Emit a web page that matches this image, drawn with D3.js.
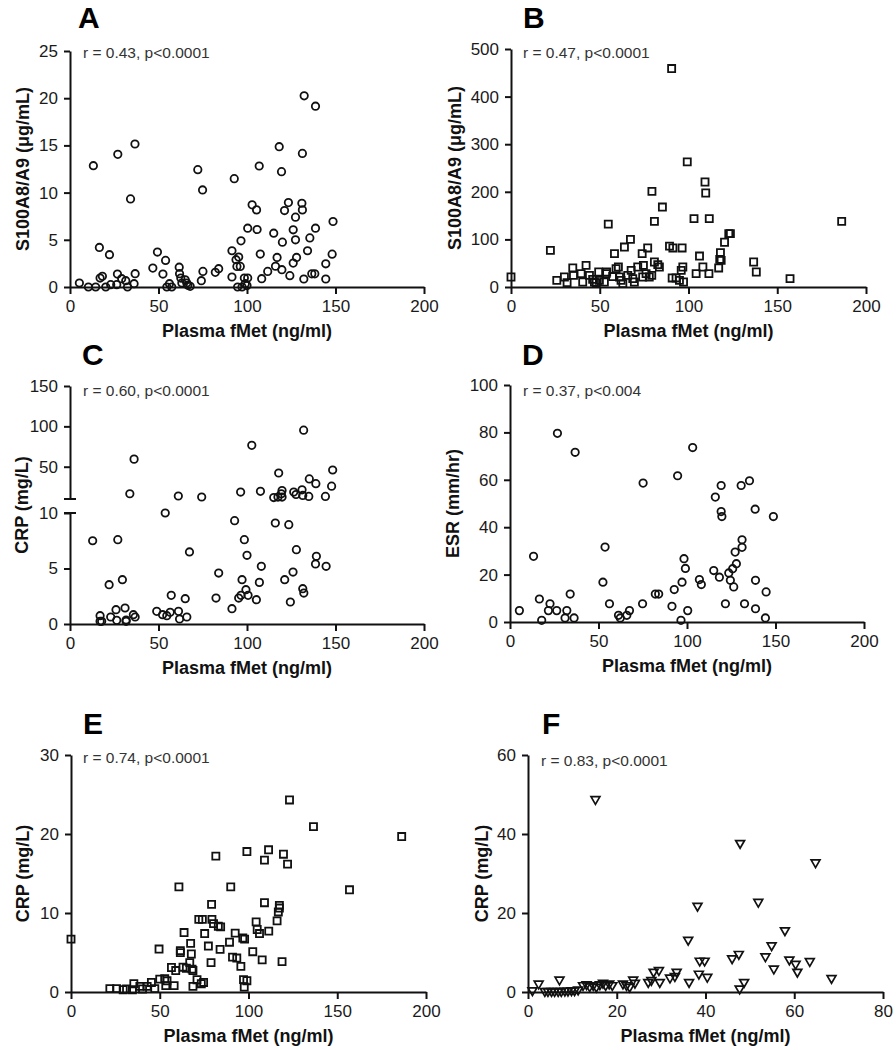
<!DOCTYPE html>
<html><head><meta charset="utf-8">
<script src="https://cdn.jsdelivr.net/npm/d3@7"></script>
<style>
body{margin:0;background:#fff;}
text{font-family:"Liberation Sans",Arial,sans-serif;}
</style></head>
<body><svg id="c" width="896" height="1050"></svg>
<script>
// ---------- DATA ----------
const xTitle = "Plasma fMet (ng/ml)";
const xTicks200 = [0,50,100,150,200];
const xTicks80 = [0,20,40,60,80];

const aTicksY = [0,5,10,15,20,25];
const aPoints = [[5.3,0.42],[10.4,0],[13.2,12.85],[14.5,0],[16.6,4.19],[17,0.95],[18.3,1.13],[20.2,0],[22.3,3.42],[23,0.25],[26.8,1.37],[26.4,0.25],[27,14.05],[29.2,0.88],[31.5,0.67],[32.5,0],[34.2,9.33],[36.7,15.15],[36.8,1.41],[36.2,0.35],[46.8,2.0],[49.4,3.7],[52.5,1.37],[54,2.82],[54.7,0],[56.2,0.35],[57.5,0],[61.7,2.1],[61.9,1.41],[62.6,0.95],[63.2,0.42],[65.1,0.77],[66,0.42],[66.6,0.18],[67.9,0.07],[72.2,12.43],[74.2,0.67],[74.9,10.28],[75.1,1.65],[82.1,1.55],[84,1.94],[91.5,3.84],[91.5,1.06],[92.8,11.48],[93.8,2.89],[95.3,3.17],[94.3,2.18],[96.2,2.18],[96.6,4.89],[94.7,0],[97.2,0],[98.5,0.95],[99,0.35],[100.4,0.95],[100,0.15],[100.4,6.23],[102.9,8.7],[105.4,8.17],[105.7,6.09],[106.9,12.82],[107.5,3.49],[108.3,0.88],[111.7,1.65],[115.1,5.7],[116.1,2.2],[117,3.13],[118.2,14.86],[119.5,12.22],[119.7,1.83],[120,4.75],[121.2,8.1],[123.4,8.94],[124.2,1.2],[126.1,6.06],[126.1,2.53],[127.4,7.4],[127.4,5.0],[128,3.13],[131,8.87],[131.3,14.15],[131.3,8.17],[132.1,0.85],[132.3,20.25],[134.2,3.84],[135.5,5.2],[136.6,1.4],[138.3,1.4],[138.7,19.15],[138.7,6.23],[144.5,2.46],[144.5,0.85],[148.1,3.48],[148.6,6.94]];

const bTicksY = [0,100,200,300,400,500];
const bPoints = [[0,21],[22.2,77],[25.8,14],[30.1,21],[31.6,9],[34.8,40],[35.2,24.5],[39.5,28],[40.4,10.5],[42.3,45.5],[44.2,24.5],[46,16],[47,10.5],[48,9],[49.4,31.5],[49.8,14],[52.6,10.5],[53.6,28],[53.9,31.5],[54.8,132],[57.3,22],[58.3,70],[59.2,38.5],[60.5,42],[61.1,21],[62,14],[63,7],[63.9,84],[65.8,24.5],[67.3,100],[67.7,35],[68.6,17.5],[69.5,10.5],[71.4,42],[73.9,70],[74.6,45.5],[74.2,21],[76.1,28],[77,82],[77.9,21],[79.3,24.5],[79.4,201],[80.8,138],[80.8,52.5],[82.7,47],[83.6,42],[85.3,168],[89.3,86],[90.5,459],[91.2,82],[90.8,19],[93,19],[94.9,14],[96.4,82],[96.8,42],[95.9,35],[97.2,10.5],[99.3,263],[103.1,143.6],[104.3,28],[106.2,65],[108.1,42],[109.3,220.6],[109.7,197.5],[111.7,143.6],[111.5,28],[117,40],[117.6,58],[118,72],[118.4,56],[120.3,94],[122.7,112],[123.6,112],[136.7,52.5],[138.2,31.5],[157.2,17.5],[186.3,138]];

const cTicksLow = [0,5,10];
const cTicksHigh = [50,100,150];
const cPoints = [[36.2,59.4],[33.8,16.5],[61.2,13.7],[74.4,12.5],[96.4,18.6],[102.7,76.5],[107.6,19.5],[117.9,42.2],[115.1,11.8],[117.5,12.4],[119.8,20.5],[119.8,12.4],[119.4,16.5],[126.4,18.6],[127.7,15.6],[131.1,21.4],[131.5,14.4],[132,95.3],[134.9,13.2],[135.2,34.9],[138.9,29],[144.3,13.2],[147.8,25.9],[148.4,45.9],
[12.8,7.5],[17,0.75],[17,0.24],[17.9,0.24],[22.1,3.54],[23,0.63],[26,1.29],[27,7.6],[26.4,0.33],[29.6,3.99],[31.1,1.44],[31.7,0.24],[31.7,0.36],[35.8,0.84],[36.8,0.63],[49,1.14],[52.3,0.84],[53.8,10],[54.7,0.75],[56.6,1.05],[57.2,2.58],[61.3,1.14],[61.9,0.45],[65.1,2.28],[66,0.63],[67.5,6.49],[82.5,2.34],[84,4.59],[91.5,1.38],[93,9.31],[95.3,2.34],[96.6,2.58],[97.2,3.99],[98.5,7.6],[99.4,3.09],[100,6.19],[100.6,2.58],[105.3,2.19],[107,3.75],[108.1,5.2],[116,9.1],[121.3,3.99],[123.6,8.95],[124.5,1.98],[126,4.68],[127.9,6.7],[131.5,3.18],[132.1,2.79],[139.2,6.1],[138.7,5.41],[144.7,5.2]];

const dTicksY = [0,20,40,60,80,100];
const dPoints = [[5.3,4.8],[13.3,27.7],[16.6,9.7],[17.9,0.7],[22.6,7.7],[21.7,4.8],[26.8,79.6],[26.4,4.8],[32.1,4.8],[31.1,1.7],[34,11.8],[36.8,71.6],[36.2,1.7],[52.5,16.8],[53.7,31.6],[56.2,7.7],[61.3,2.8],[62.3,1.7],[66,2.8],[67.5,4.8],[74.9,7.7],[75.2,58.6],[82.1,11.8],[84,11.8],[91.5,6.6],[92.8,13.7],[94.7,61.7],[96.6,0.7],[97.2,16.8],[98.3,26.7],[99.1,22.6],[100.4,4.8],[103.2,73.6],[107,17.9],[108.1,15.8],[115.1,21.7],[116,52.7],[118.3,18.9],[119.3,57.6],[119.3,46.6],[119.7,44.5],[121.7,7.7],[123.6,20.7],[124.5,17.6],[126.4,14.8],[125.8,22.5],[127.9,24.6],[127.2,29.5],[131.1,34.7],[131.1,31.5],[130.6,57.6],[132.5,7.7],[135.3,59.6],[138.5,47.6],[138.7,17.6],[138.7,5.6],[144.7,12.7],[144.3,1.7],[148.8,44.5]];

const eTicksY = [0,10,20,30];
const ePoints = [[0,6.69],[21.9,0.42],[25.7,0.42],[29.4,0.29],[31.3,0.38],[35.4,1.05],[34.6,0.29],[38.8,0.71],[40.3,0.38],[42.9,0.71],[45.3,1.21],[47.2,0.42],[49.6,5.44],[50,1.63],[52.8,1.67],[53.4,0.8],[54.1,1.42],[58.1,0.8],[56.6,3.1],[59,2.72],[60.8,13.3],[61.6,4.98],[61.6,5.23],[63.1,3.14],[63.7,7.53],[65,3.01],[66.9,3.72],[67.4,6.15],[67.8,4.81],[68.2,2.89],[68.7,2.72],[68.7,0.71],[71,1.55],[72,9.2],[74,9.2],[73.4,1.05],[74.7,1.21],[75.3,7.4],[77.4,5.82],[78.9,3.72],[79.2,11.09],[79.4,9.2],[80.3,8.66],[81.6,17.2],[83,8.33],[84.3,8.24],[84,5.4],[89.3,6.3],[90,13.3],[91,4.42],[92.5,7.46],[93.4,4.3],[95.7,3.24],[96.8,6.83],[97.8,6.7],[97.2,1.56],[99.1,1.43],[97.6,0.63],[99.1,17.78],[102.4,5.1],[104.3,8.87],[104.9,7.91],[106.2,7.4],[107.7,4.06],[109,11.3],[109,16.7],[111.3,18],[111.4,7.7],[116.1,9],[116.8,10.13],[117.4,10.96],[117.4,10.63],[118.9,3.85],[119.7,17.44],[122,16.18],[123.1,24.31],[136.6,20.94],[156.9,12.94],[186.3,19.68]];

const fTicksY = [0,20,40,60];
const fPoints = [[1.0,0.4],[2.4,2.1],[3.8,0.2],[4.5,0.2],[5.3,0.2],[6.0,0.2],[6.8,0.2],[7.1,3.1],[7.5,0.2],[8.3,0.3],[9.0,0.3],[9.8,0.4],[10.5,0.4],[11.3,0.6],[12.4,1.7],[13.2,1.9],[13.9,1.4],[14.7,1.7],[15.2,48.8],[15.4,1.3],[16.2,1.9],[16.9,2.3],[17.5,1.7],[18.3,2.1],[19.0,1.7],[21.4,2.1],[22.2,1.7],[22.9,1.3],[23.7,3.1],[24.1,2.3],[27.1,2.5],[27.8,3.0],[28.3,5.1],[29.5,5.5],[29.7,2.5],[32,3.6],[33.1,4.0],[33.5,5.1],[36.1,13.2],[36.3,2.5],[38.2,21.8],[38.5,4.6],[38.7,7.9],[39.8,7.9],[40.4,3.8],[46,8.5],[47.5,9.6],[47.8,37.7],[47.7,0.85],[48.7,2.5],[51.9,22.8],[53.5,9.0],[54.9,11.8],[55.4,5.9],[57.9,15.6],[58.9,8.2],[60.3,7.1],[60.7,5.1],[63.5,7.8],[64.8,32.8],[68.4,3.5]];

// ---------- DRAW ----------
const svg = d3.select("#c");
svg.append("rect").attr("width",896).attr("height",1050).attr("fill","#fff");

function styleAxis(g){
  g.selectAll("path,line").attr("stroke","#111").attr("stroke-width",2);
  g.selectAll("text").attr("font-size",17).attr("fill","#1a1a1a")
   .attr("font-family","'Liberation Sans',Arial,sans-serif");
}

function drawMarkers(g, pts, xs, yf, marker){
  const sel = g.selectAll("path.m").data(pts).enter();
  if(marker==="circle"){
    sel.append("circle").attr("cx",d=>xs(d[0])).attr("cy",d=>yf(d[1])).attr("r",3.7)
      .attr("fill","none").attr("stroke","#111").attr("stroke-width",1.8);
  } else if(marker==="square"){
    const s = d3.symbol(d3.symbolSquare, 50);
    sel.append("path").attr("d",s).attr("transform",d=>`translate(${xs(d[0])},${yf(d[1])})`)
      .attr("fill","none").attr("stroke","#111").attr("stroke-width",1.8);
  } else {
    const s = d3.symbol(d3.symbolTriangle, 34);
    sel.append("path").attr("d",s).attr("transform",d=>`translate(${xs(d[0])},${yf(d[1])}) rotate(180)`)
      .attr("fill","none").attr("stroke","#111").attr("stroke-width",1.7);
  }
}

function labels(p){
  svg.append("text").attr("x",p.lx).attr("y",p.ly).attr("font-size",30).attr("font-weight","bold").attr("fill","#000").text(p.letter);
  svg.append("text").attr("x",p.ax).attr("y",p.ay).attr("font-size",15.5).attr("fill","#333").text(p.annot);
  svg.append("text").attr("transform",`translate(${p.ytx},${(p.yTop+p.yBottom)/2}) rotate(-90)`)
    .attr("text-anchor","middle").attr("dominant-baseline","central")
    .attr("font-size",18).attr("font-weight","bold").attr("fill","#111").text(p.yTitle);
  svg.append("text").attr("x",(p.x0+p.x1)/2).attr("y",p.yBottom+50).attr("text-anchor","middle")
    .attr("font-size",18).attr("font-weight","bold").attr("fill","#111").text(xTitle);
}

function panel(p){
  const xs = d3.scaleLinear().domain(p.xDomain).range([p.x0,p.x1]);
  const ys = d3.scaleLinear().domain(p.yDomain).range([p.yBottom,p.yTop]);
  const g = svg.append("g");
  g.append("g").attr("transform",`translate(0,${p.yBottom})`)
    .call(d3.axisBottom(xs).tickValues(p.xTicks).tickSize(7).tickPadding(6).tickSizeOuter(0)).call(styleAxis);
  g.append("g").attr("transform",`translate(${p.x0},0)`)
    .call(d3.axisLeft(ys).tickValues(p.yTicks).tickSize(6).tickPadding(6).tickSizeOuter(0)).call(styleAxis);
  drawMarkers(g, p.data, xs, ys, p.marker);
  labels(p);
}

panel({x0:70,x1:424,yTop:51,yBottom:287,xDomain:[0,200],xTicks:xTicks200,yDomain:[0,25],yTicks:aTicksY,data:aPoints,marker:"circle",
  letter:"A",lx:78,ly:28,annot:"r = 0.43, p<0.0001",ax:83,ay:58,yTitle:"S100A8/A9 (μg/mL)",ytx:23});
panel({x0:511,x1:866,yTop:49,yBottom:287,xDomain:[0,200],xTicks:xTicks200,yDomain:[0,500],yTicks:bTicksY,data:bPoints,marker:"square",
  letter:"B",lx:523,ly:28,annot:"r = 0.47, p<0.0001",ax:523,ay:58,yTitle:"S100A8/A9 (μg/mL)",ytx:455});
panel({x0:510,x1:864,yTop:385,yBottom:622,xDomain:[0,200],xTicks:xTicks200,yDomain:[0,100],yTicks:dTicksY,data:dPoints,marker:"circle",
  letter:"D",lx:522,ly:365,annot:"r = 0.37, p<0.004",ax:523,ay:396,yTitle:"ESR (mm/hr)",ytx:453});
panel({x0:71,x1:426,yTop:755,yBottom:992,xDomain:[0,200],xTicks:xTicks200,yDomain:[0,30],yTicks:eTicksY,data:ePoints,marker:"square",
  letter:"E",lx:83,ly:734,annot:"r = 0.74, p<0.0001",ax:83,ay:763,yTitle:"CRP (mg/L)",ytx:23});
panel({x0:528,x1:883,yTop:755,yBottom:992,xDomain:[0,80],xTicks:xTicks80,yDomain:[0,60],yTicks:fTicksY,data:fPoints,marker:"triangle",
  letter:"F",lx:542,ly:734,annot:"r = 0.83, p<0.0001",ax:541,ay:766,yTitle:"CRP (mg/L)",ytx:482});

// Panel C with broken y axis
(function(){
  const p = {x0:70,x1:424,yTop:386,yBottom:624,letter:"C",lx:82,ly:365,annot:"r = 0.60, p<0.0001",ax:83,ay:396,yTitle:"CRP (mg/L)",ytx:22};
  const xs = d3.scaleLinear().domain([0,200]).range([p.x0,p.x1]);
  const yLow = d3.scaleLinear().domain([0,10]).range([624,513]);
  const yHigh = d3.scaleLinear().domain([10,150]).range([499,386]);
  const yf = v => v<=10 ? yLow(v) : yHigh(v);
  const g = svg.append("g");
  g.append("g").attr("transform",`translate(0,${p.yBottom})`)
    .call(d3.axisBottom(xs).tickValues(xTicks200).tickSize(7).tickPadding(6).tickSizeOuter(0)).call(styleAxis);
  g.append("g").attr("transform",`translate(${p.x0},0)`)
    .call(d3.axisLeft(yLow).tickValues(cTicksLow).tickSize(6).tickPadding(6).tickSizeOuter(0)).call(styleAxis);
  g.append("g").attr("transform",`translate(${p.x0},0)`)
    .call(d3.axisLeft(yHigh).tickValues(cTicksHigh).tickSize(6).tickPadding(6).tickSizeOuter(0)).call(styleAxis);
  // break caps
  [yLow(10), yHigh(10)].forEach(y=>{
    g.append("line").attr("x1",p.x0-6).attr("x2",p.x0+6).attr("y1",y).attr("y2",y)
      .attr("stroke","#111").attr("stroke-width",2);
  });
  drawMarkers(g, cPoints, xs, yf, "circle");
  labels(p);
})();
</script></body></html>
